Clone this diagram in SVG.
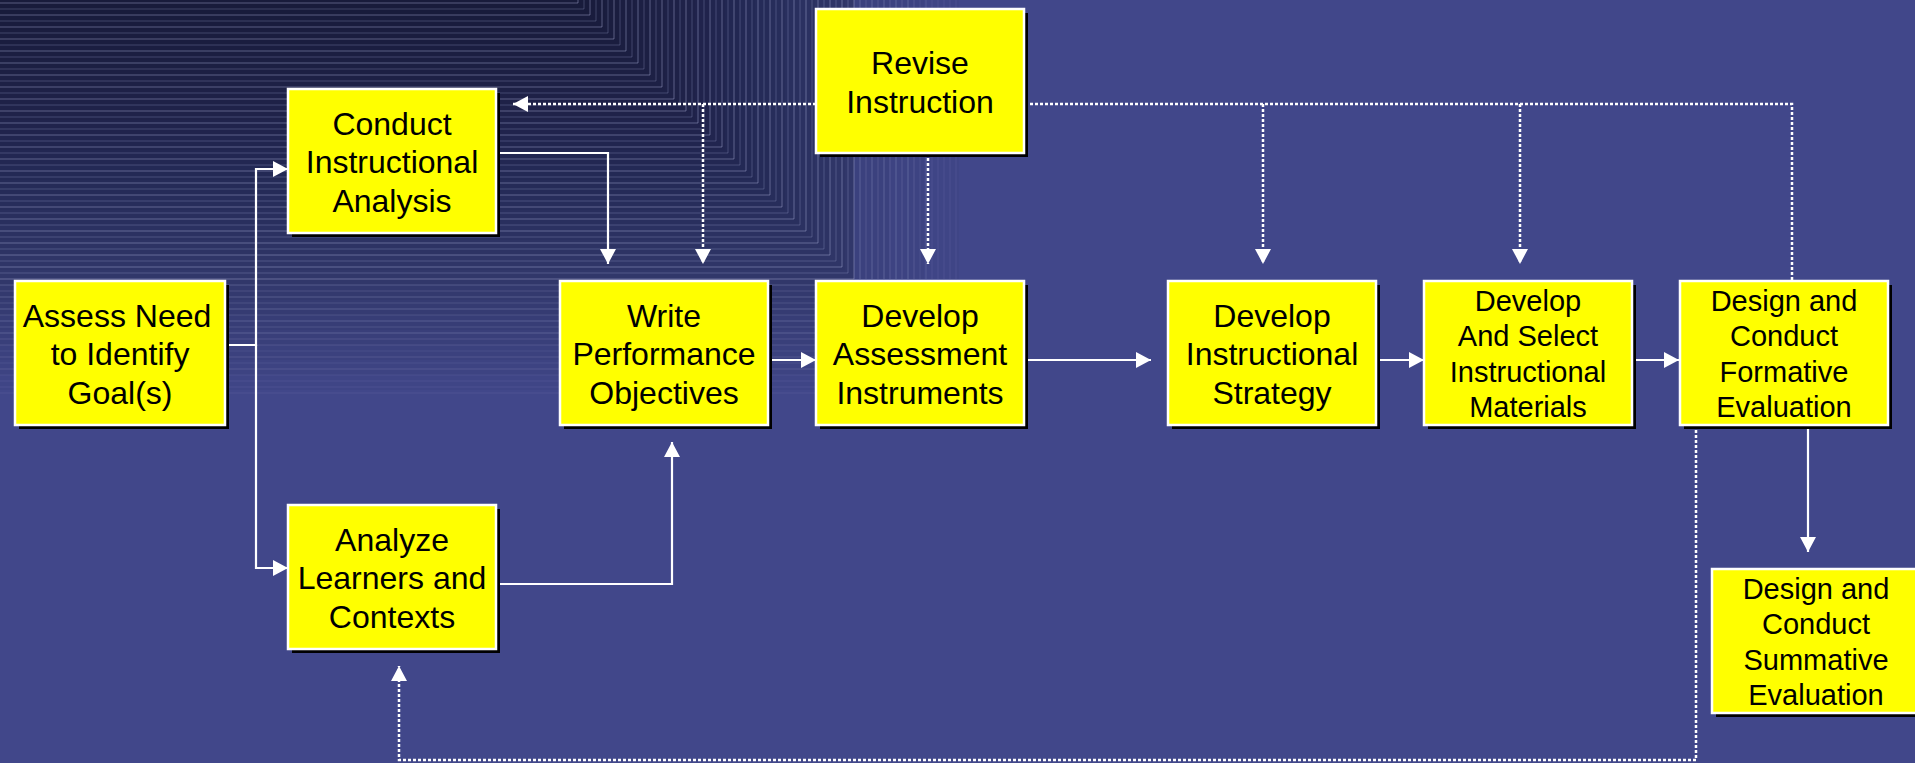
<svg xmlns="http://www.w3.org/2000/svg" width="1915" height="763" viewBox="0 0 1915 763">
<defs>
<style>
.box{fill:#ffff00;stroke:#ffffff;stroke-width:2.5}
.sh{fill:#000000}
.t{font-family:"Liberation Sans",Arial,sans-serif;font-size:32px;fill:#000;text-anchor:middle}
.s{font-family:"Liberation Sans",Arial,sans-serif;font-size:29px;fill:#000;text-anchor:middle}
.ln{fill:none;stroke:#ffffff;stroke-width:2.2}
.dt{fill:none;stroke:#ffffff;stroke-width:2.5;stroke-dasharray:3 2}
.bl{fill:none;stroke:#a8aed6;stroke-width:1}
</style>
<marker id="ah" viewBox="0 0 15 16" refX="15" refY="8" markerWidth="15" markerHeight="16" markerUnits="userSpaceOnUse" orient="auto">
<path d="M0,0 L15,8 L0,16 z" fill="#ffffff"/>
</marker>
</defs>
<g id="background">
<rect width="1915" height="763" fill="#41478a"/>
<g fill="#000000" fill-opacity="0.026">
<rect width="590" height="15"/><rect width="605" height="30"/><rect width="620" height="45"/><rect width="635" height="60"/><rect width="650" height="75"/><rect width="665" height="90"/><rect width="680" height="105"/><rect width="695" height="120"/><rect width="710" height="135"/><rect width="725" height="150"/><rect width="740" height="165"/><rect width="755" height="180"/><rect width="770" height="195"/><rect width="785" height="210"/><rect width="800" height="225"/><rect width="815" height="240"/><rect width="830" height="255"/><rect width="845" height="270"/><rect width="854" height="285"/><rect width="854" height="300"/><rect width="854" height="315"/><rect width="854" height="330"/><rect width="854" height="345"/><rect width="854" height="360"/><rect width="854" height="375"/><rect width="854" height="390"/>
<rect x="854" width="35" height="279"/><rect x="854" width="70" height="279"/><rect x="854" width="105" height="279"/>
</g>
<path class="bl" stroke-opacity="0.45" d="M0,3H578V0M0,15H590V0M0,27H602V0M0,39H614V0M0,51H626V0M0,63H638V0M0,75H650V0M0,87H662V0M0,99H674V0M0,111H686V0M0,123H698V0M0,135H710V0M0,147H722V0M0,159H734V0M0,171H746V0M0,183H758V0M0,195H770V0M0,207H782V0M0,219H794V0M0,231H806V0M0,243H818V0M0,255H830V0M0,267H842V0M0,279H854V0"/>
<path class="bl" stroke-opacity="0.28" d="M0,9H584V0M0,21H596V0M0,33H608V0M0,45H620V0M0,57H632V0M0,69H644V0M0,81H656V0M0,93H668V0M0,105H680V0M0,117H692V0M0,129H704V0M0,141H716V0M0,153H728V0M0,165H740V0M0,177H752V0M0,189H764V0M0,201H776V0M0,213H788V0M0,225H800V0M0,237H812V0M0,249H824V0M0,261H836V0M0,273H848V0"/>
<path class="bl" stroke-opacity="0.3" d="M0,285H854M0,297H854M0,309H854M0,321H854M0,333H854M860,0V279M872,0V279M884,0V279M896,0V279M908,0V279"/>
<path class="bl" stroke-opacity="0.2" d="M0,291H854M0,303H854M0,315H854M0,327H854M0,339H854M0,345H854M0,357H854M0,369H854M866,0V279M878,0V279M890,0V279M902,0V279M914,0V279M926,0V279"/>
<path class="bl" stroke-opacity="0.12" d="M0,351H854M0,363H854M0,375H854M0,381H854M0,387H854M0,393H854M920,0V279M932,0V279M938,0V279M944,0V279M950,0V279M956,0V279"/>
</g>
<g id="connectors">
<path class="ln" d="M225,345 H256 V169 H288" marker-end="url(#ah)"/>
<path class="ln" d="M256,345 V568 H288" marker-end="url(#ah)"/>
<path class="ln" d="M496,153 H608 V264" marker-end="url(#ah)"/>
<path class="ln" d="M496,584 H672 V442" marker-end="url(#ah)"/>
<path class="ln" d="M768,360 H816" marker-end="url(#ah)"/>
<path class="ln" d="M1025,360 H1151" marker-end="url(#ah)"/>
<path class="ln" d="M1376,360 H1424" marker-end="url(#ah)"/>
<path class="ln" d="M1632,360 H1679" marker-end="url(#ah)"/>
<path class="ln" d="M1808,425 V552" marker-end="url(#ah)"/>
<path class="dt" d="M816,104 H513" marker-end="url(#ah)"/>
<path class="dt" d="M703,104 V264" marker-end="url(#ah)"/>
<path class="dt" d="M928,153 V264" marker-end="url(#ah)"/>
<path class="dt" d="M1025,104 H1792 V281"/>
<path class="dt" d="M1263,104 V264" marker-end="url(#ah)"/>
<path class="dt" d="M1520,104 V264" marker-end="url(#ah)"/>
<path class="dt" d="M1696,425 V760 H399 V666" marker-end="url(#ah)"/>
</g>
<g id="revise">
<rect class="sh" x="820" y="13" width="208" height="144"/>
<rect class="box" x="816" y="9" width="208" height="144"/>
<text class="t" x="920" y="74">Revise</text>
<text class="t" x="920" y="112.5">Instruction</text>
</g>
<g id="conduct">
<rect class="sh" x="292" y="93" width="208" height="144"/>
<rect class="box" x="288" y="89" width="208" height="144"/>
<text class="t" x="392" y="134.5">Conduct</text>
<text class="t" x="392" y="173">Instructional</text>
<text class="t" x="392" y="211.5">Analysis</text>
</g>
<g id="assess">
<rect class="sh" x="19" y="285" width="210" height="144"/>
<rect class="box" x="15" y="281" width="210" height="144"/>
<text class="t" x="117" y="326.5">Assess Need</text>
<text class="t" x="120" y="365">to Identify</text>
<text class="t" x="120" y="403.5">Goal(s)</text>
</g>
<g id="write">
<rect class="sh" x="564" y="285" width="208" height="144"/>
<rect class="box" x="560" y="281" width="208" height="144"/>
<text class="t" x="664" y="326.5">Write</text>
<text class="t" x="664" y="365">Performance</text>
<text class="t" x="664" y="403.5">Objectives</text>
</g>
<g id="assessment">
<rect class="sh" x="820" y="285" width="208" height="144"/>
<rect class="box" x="816" y="281" width="208" height="144"/>
<text class="t" x="920" y="326.5">Develop</text>
<text class="t" x="920" y="365">Assessment</text>
<text class="t" x="920" y="403.5">Instruments</text>
</g>
<g id="analyze">
<rect class="sh" x="292" y="509" width="208" height="144"/>
<rect class="box" x="288" y="505" width="208" height="144"/>
<text class="t" x="392" y="550.5">Analyze</text>
<text class="t" x="392" y="589">Learners and</text>
<text class="t" x="392" y="627.5">Contexts</text>
</g>
<g id="strategy">
<rect class="sh" x="1172" y="285" width="208" height="144"/>
<rect class="box" x="1168" y="281" width="208" height="144"/>
<text class="t" x="1272" y="326.5">Develop</text>
<text class="t" x="1272" y="365">Instructional</text>
<text class="t" x="1272" y="403.5">Strategy</text>
</g>
<g id="materials">
<rect class="sh" x="1428" y="285" width="208" height="144"/>
<rect class="box" x="1424" y="281" width="208" height="144"/>
<text class="s" x="1528" y="311">Develop</text>
<text class="s" x="1528" y="346.3">And Select</text>
<text class="s" x="1528" y="381.6">Instructional</text>
<text class="s" x="1528" y="417">Materials</text>
</g>
<g id="formative">
<rect class="sh" x="1684" y="285" width="208" height="144"/>
<rect class="box" x="1680" y="281" width="208" height="144"/>
<text class="s" x="1784" y="311">Design and</text>
<text class="s" x="1784" y="346.3">Conduct</text>
<text class="s" x="1784" y="381.6">Formative</text>
<text class="s" x="1784" y="417">Evaluation</text>
</g>
<g id="summative">
<rect class="sh" x="1716" y="573" width="208" height="144"/>
<rect class="box" x="1712" y="569" width="208" height="144"/>
<text class="s" x="1816" y="599">Design and</text>
<text class="s" x="1816" y="634.3">Conduct</text>
<text class="s" x="1816" y="669.6">Summative</text>
<text class="s" x="1816" y="705">Evaluation</text>
</g>
</svg>
